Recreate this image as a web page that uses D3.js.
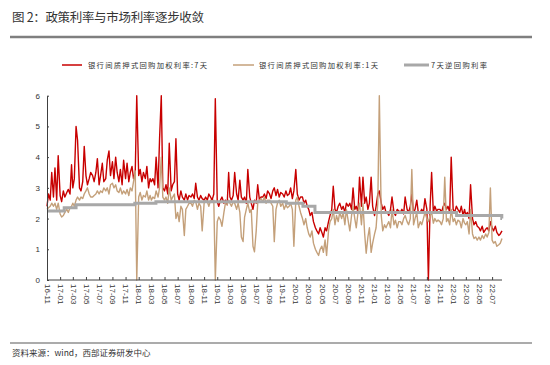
<!DOCTYPE html>
<html><head><meta charset="utf-8">
<script src="https://cdn.jsdelivr.net/npm/d3@7"></script>
<style>body{margin:0;background:#fff}svg{display:block}</style>
</head><body><svg id="c" width="550" height="365"></svg>
<script>
const titleText = "图 2：政策利率与市场利率逐步收敛";
const sourceText = "资料来源：wind，西部证券研发中心";
const seriesNames = ["银行间质押式回购加权利率:7天", "银行间质押式回购加权利率:1天", "7天逆回购利率"];
const tickLabels = ["16-11","17-01","17-03","17-05","17-07","17-09","17-11","18-01","18-03","18-05","18-07","18-09","18-11",
  "19-01","19-03","19-05","19-07","19-09","19-11","20-01","20-03","20-05","20-07","20-09","20-11",
  "21-01","21-03","21-05","21-07","21-09","21-11","22-01","22-03","22-05","22-07"];
const yTicks = [0,1,2,3,4,5,6];
// four readings per month (days 1, 8, 16, 23), Nov 2016 .. Aug 2022
const pointDays = [1, 8, 16, 23];
const r007 = [
 2.4,2.8,2.6,3.5, 2.7,3.65,2.6,4.05, 2.75,2.55,2.9,2.7, 2.85,2.95,2.8,3.75, 3.0,3.3,5.0,4.55, 3.0,2.9,3.2,4.35,
 3.4,3.1,3.3,3.5, 3.4,3.2,3.5,3.95, 3.1,3.4,3.8,3.2, 3.3,3.9,4.2,3.4, 3.85,3.3,4.0,3.5, 3.2,3.6,3.1,3.9,
 3.3,3.8,3.2,3.5, 3.7,3.3,3.5,6.0, 3.4,3.6,3.2,3.5, 3.3,3.7,3.0,3.3, 3.2,3.3,3.1,4.0, 3.0,4.6,6.0,3.0,
 2.9,3.1,2.8,4.45, 2.9,3.1,3.2,4.6, 2.8,2.6,2.9,2.7, 2.6,2.8,2.6,2.75, 2.7,2.8,2.65,3.15, 2.7,2.6,2.75,2.65,
 2.6,2.7,2.6,2.8, 2.7,2.6,2.8,5.9, 2.55,2.4,2.6,2.7, 2.5,2.6,2.45,3.5, 2.7,2.6,2.75,3.5, 2.8,2.6,3.25,2.7,
 2.6,2.7,2.5,3.6, 2.7,2.5,2.3,2.6, 2.5,3.1,2.6,2.7, 2.7,2.8,2.65,2.9, 2.8,2.65,2.9,3.0, 2.75,2.95,2.7,2.85,
 2.8,2.7,2.9,2.75, 2.8,3.0,2.65,2.9, 3.6,2.8,2.6,2.7, 2.7,2.5,2.6,2.4, 2.3,2.1,2.2,1.9, 1.7,1.6,1.5,1.7,
 1.55,1.4,1.7,1.6, 1.9,2.1,2.3,3.05, 2.3,2.2,2.4,2.5, 2.3,2.4,2.2,2.5, 2.4,2.5,2.3,3.0, 2.3,2.4,2.2,3.35,
 2.4,3.35,2.5,2.7, 2.3,2.5,3.35,2.4, 2.1,2.4,2.8,2.9, 2.5,2.3,2.4,2.2, 2.2,2.1,2.3,2.7, 2.2,2.1,2.3,2.25,
 2.2,2.3,2.15,2.7, 2.3,2.2,2.4,2.8, 2.2,2.3,2.6,2.2, 2.2,2.3,2.2,2.65, 2.3,0,2.4,3.5, 2.2,2.4,2.25,2.3,
 2.3,2.2,2.4,2.5, 2.3,2.4,2.2,4.0, 2.3,2.2,2.4,2.3, 2.2,2.4,2.1,2.3, 2.1,2.2,2.0,3.1, 2.0,1.8,1.9,1.75,
 1.7,1.6,1.75,1.55, 1.65,1.7,1.6,1.9, 1.7,1.6,1.75,1.55, 1.45,1.5,1.6
];
const r001 = [
 2.3,2.35,2.4,2.5, 2.4,2.5,2.3,2.5, 2.15,2.05,2.1,2.2, 2.3,2.2,2.35,2.4, 2.5,2.4,2.6,2.7, 2.6,2.7,2.65,2.8,
 2.9,3.0,2.8,2.7, 2.7,2.75,2.8,2.9, 2.8,2.9,2.85,3.0, 2.9,3.0,2.8,3.1, 3.15,3.0,3.1,2.9, 2.85,3.0,2.8,2.9,
 2.8,2.95,2.75,3.0, 2.9,3.2,3.55,0, 2.7,2.85,2.6,2.75, 2.7,2.9,2.6,2.75, 2.6,2.7,2.65,2.9, 2.7,3.0,4.0,2.7,
 2.6,2.7,2.5,3.0, 2.6,2.7,2.8,2.0, 2.2,1.9,2.4,2.3, 1.45,2.3,2.4,2.5, 2.5,2.4,2.6,2.55, 2.3,2.5,2.4,1.6,
 2.5,2.6,2.55,2.4, 2.6,2.55,2.6,0, 1.9,2.05,1.95,1.75, 2.2,2.5,2.45,2.6, 2.5,2.4,2.55,2.5, 2.3,2.5,2.2,1.4,
 1.25,2.05,2.3,2.5, 2.2,2.3,1.1,0.92, 1.6,2.5,2.6,2.65, 2.55,2.7,2.5,2.6, 2.6,2.5,2.4,1.25, 2.3,2.5,2.6,2.4,
 2.5,2.3,2.45,2.35, 2.4,2.5,2.3,1.1, 2.6,2.7,2.4,2.2, 2.0,1.8,2.0,1.7, 1.5,1.4,1.6,1.2, 1.0,0.9,0.8,1.0,
 1.1,0.9,1.3,0.8, 1.6,1.9,2.0,2.3, 1.8,2.1,1.9,2.2, 2.0,2.2,1.8,2.3, 1.9,1.6,2.1,2.4, 2.0,1.7,2.2,2.5,
 1.8,2.5,1.5,0.87, 1.4,1.7,0.9,1.2, 1.5,1.7,2.5,6.0, 2.1,1.6,1.8,1.7, 1.8,1.9,1.7,2.3, 1.8,1.95,1.7,1.9,
 1.9,1.8,2.0,2.1, 1.9,1.8,2.0,3.6, 1.8,2.0,2.2,1.7, 1.9,1.8,2.0,2.2, 2.0,1.9,2.1,2.2, 1.85,2.0,1.9,1.95,
 1.9,1.8,2.0,3.35, 1.9,2.0,1.8,2.3, 1.9,2.0,1.8,1.95, 1.9,1.7,2.0,1.85, 1.8,1.9,1.5,2.3, 1.5,1.35,1.4,1.3,
 1.4,1.3,1.45,1.35, 1.5,1.4,1.55,3.0, 1.3,1.2,1.25,1.1, 1.15,1.2,1.35
];
const repoDates = ["2016-11-01","2017-01-20","2017-03-16","2017-12-14","2018-03-22","2019-11-18","2020-02-03","2020-03-30","2022-01-17","2022-08-15","2022-08-16"];
const repoValues = [2.25,2.35,2.45,2.50,2.55,2.50,2.40,2.20,2.10,2.00,2.00];

const colors = ["#c80000", "#c4a07a", "#a8a8a8"];

const svg = d3.select("#c");
const plot = {left: 47, right: 502, top: 95.7, bottom: 280};

const pointDate = i => new Date(2016, 10 + Math.floor(i / 4), pointDays[i % 4]);
const redData = r007.map((v, i) => ({d: pointDate(i), v}));
const tanData = r001.map((v, i) => ({d: pointDate(i), v}));
const parseDay = d3.timeParse("%Y-%m-%d");
const grayData = repoDates.map((s, i) => ({d: parseDay(s), v: repoValues[i]}));

const x = d3.scaleTime().domain([redData[0].d, redData[redData.length - 1].d]).range([plot.left, plot.right]);
const y = d3.scaleLinear().domain([0, 6]).range([plot.bottom, plot.top]);

// title and rules
svg.append("text").attr("x", 12).attr("y", 22).text(titleText)
  .attr("font-family", "Noto Sans CJK SC").attr("font-size", 12.5).attr("fill", "#333")
  .attr("textLength", 192).attr("lengthAdjust", "spacing");
svg.append("line").attr("x1", 10).attr("x2", 532).attr("y1", 37).attr("y2", 37)
  .attr("stroke", "#7f7f7f").attr("stroke-width", 2.5);
svg.append("line").attr("x1", 10).attr("x2", 532).attr("y1", 343).attr("y2", 343)
  .attr("stroke", "#595959").attr("stroke-width", 1.2);
svg.append("text").attr("x", 12).attr("y", 356).text(sourceText)
  .attr("font-family", "Noto Sans CJK SC").attr("font-size", 8.5).attr("fill", "#333");

// legend
const legendItems = [
  {x1: 62, x2: 82, tx: 88, w: 119},
  {x1: 233, x2: 254, tx: 259, w: 119},
  {x1: 404, x2: 429, tx: 431, w: 56}
];
legendItems.forEach((it, i) => {
  svg.append("line").attr("x1", it.x1).attr("x2", it.x2).attr("y1", 65).attr("y2", 65)
    .attr("stroke", colors[i]).attr("stroke-width", i === 2 ? 3 : 1.5);
  svg.append("text").attr("x", it.tx).attr("y", 67.8).text(seriesNames[i])
    .attr("font-family", "Noto Sans CJK SC").attr("font-size", 7.3).attr("fill", "#333")
    .attr("textLength", it.w).attr("lengthAdjust", "spacing");
});

// lines
const line = d3.line().x(d => x(d.d)).y(d => y(d.v));
svg.append("path").datum(redData).attr("d", line).attr("fill", "none")
  .attr("stroke", colors[0]).attr("stroke-width", 1.4).attr("stroke-linejoin", "round");
svg.append("path").datum(tanData).attr("d", line).attr("fill", "none")
  .attr("stroke", colors[1]).attr("stroke-width", 1.4).attr("stroke-linejoin", "round");
svg.append("path").datum(grayData).attr("d", line.curve(d3.curveStepAfter)).attr("fill", "none")
  .attr("stroke", colors[2]).attr("stroke-width", 3);

// axes
const parseTick = d3.timeParse("%y-%m");
const tickDates = tickLabels.map(parseTick);
const xAxis = svg.append("g").attr("transform", `translate(0,${plot.bottom})`)
  .call(d3.axisBottom(x).tickValues(tickDates).tickFormat(d3.timeFormat("%y-%m")).tickSizeInner(-3).tickSizeOuter(0));
xAxis.selectAll("text").attr("transform", "rotate(90)").attr("x", 4).attr("y", 0).attr("dy", "0.35em")
  .style("text-anchor", "start").attr("font-size", 8).attr("font-family", "Liberation Sans, Arial").attr("fill", "#333");
const yAxis = svg.append("g").attr("transform", `translate(${plot.left},0)`)
  .call(d3.axisLeft(y).tickValues(yTicks).tickFormat(d3.format("d")).tickSizeInner(-2).tickSizeOuter(0).tickPadding(7));
yAxis.selectAll("text").attr("font-size", 8).attr("font-family", "Liberation Sans, Arial").attr("fill", "#333");
[xAxis, yAxis].forEach(a => { a.select(".domain").attr("stroke", "#404040"); a.selectAll(".tick line").attr("stroke", "#404040"); });
xAxis.select(".domain").attr("d", `M${plot.left},0H${plot.right}`);
</script></body></html>
